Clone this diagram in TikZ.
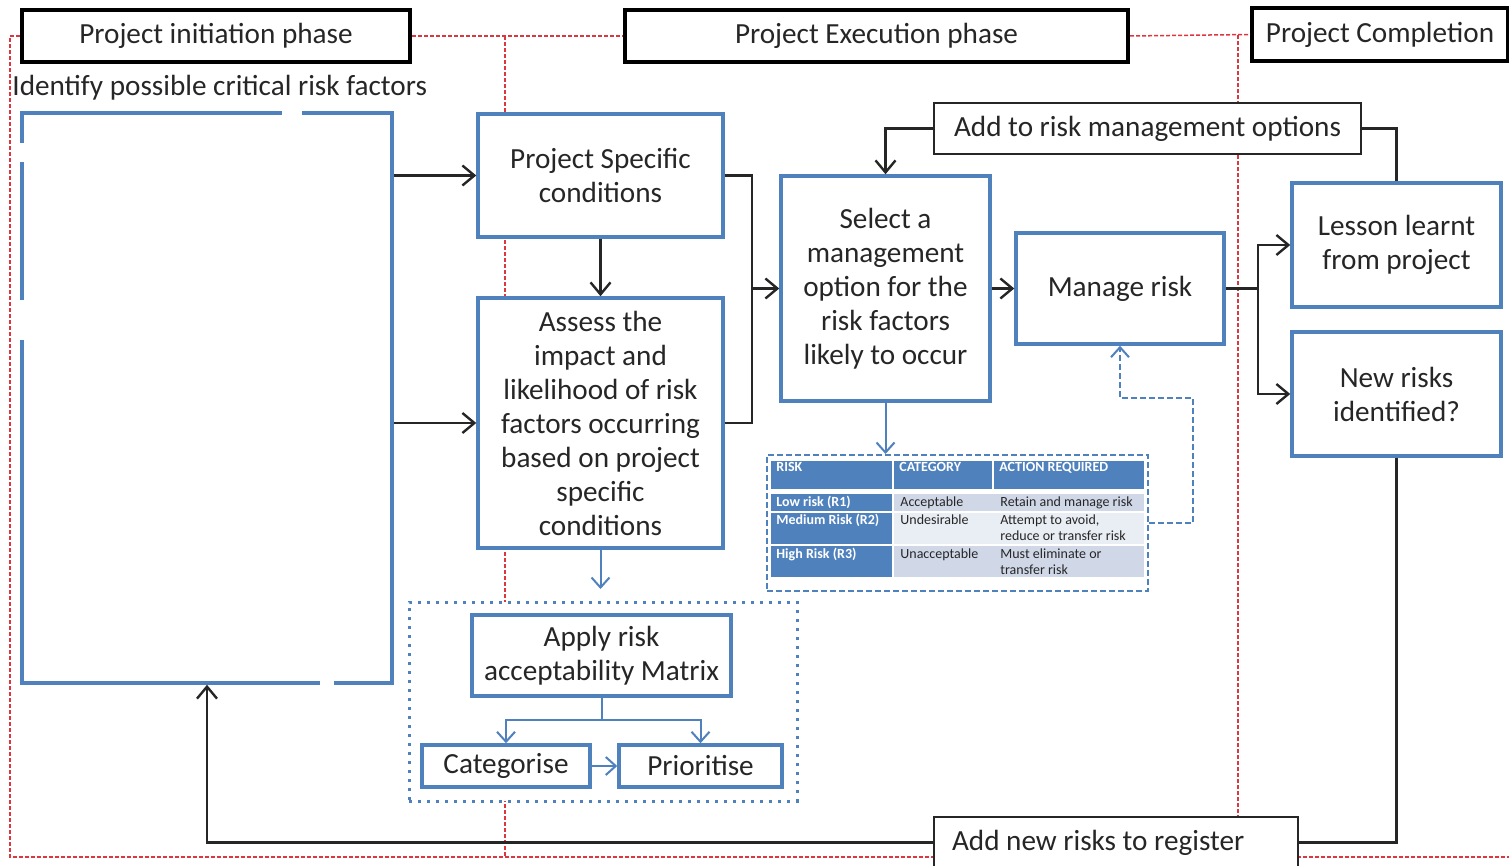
\documentclass[tikz,border=0pt]{standalone}
\usepackage{fontspec}
\setmainfont{Carlito}
\usetikzlibrary{arrows.meta}
\definecolor{boxblue}{RGB}{79,129,189}
\definecolor{ink}{RGB}{38,38,38}
\definecolor{phasered}{RGB}{220,55,65}
\definecolor{bandA}{RGB}{208,216,232}
\definecolor{bandB}{RGB}{233,237,244}
\begin{document}
\begin{tikzpicture}[x=0.5pt,y=-0.5pt,
  font=\fontsize{14.6}{17}\selectfont, text=ink, inner sep=0pt,
  phasebox/.style={draw=black, line width=2pt, fill=white, align=center},
  bluebox/.style={draw=boxblue, line width=1.75pt, fill=white, align=center},
  notebox/.style={draw=ink, line width=1.2pt, fill=white, align=center},
  flow/.style={draw=ink, line width=1.2pt},
  flowarrow/.style={flow, -{Straight Barb[length=6pt,width=10pt]}},
  bluearrow/.style={draw=boxblue, line width=1pt, -{Straight Barb[length=5pt,width=9pt]}},
  bluedash/.style={draw=boxblue, line width=1pt, dash pattern=on 3pt off 1.5pt},
  phaseline/.style={draw=phasered, line width=0.75pt, dash pattern=on 2pt off 1pt},
  celltext/.style={font=\fontsize{7}{8}\selectfont, anchor=base west},
  headtext/.style={celltext, font=\fontsize{7}{8}\selectfont\bfseries, text=white},
]
\useasboundingbox (0,0) rectangle (1509,866);

% phase headers
\node[phasebox, minimum width=194pt, minimum height=26pt] (init) at (216,36) {Project initiation phase};
\node[phasebox, minimum width=251.5pt, minimum height=26pt] (exec) at (876.5,36) {Project Execution phase};
\node[phasebox, minimum width=128pt, minimum height=26.5pt] (comp) at (1380,34.5) {Project Completion};

% phase boundaries
\draw[phaseline] (init.west) -- (10,36) -- (10,857) -- (1509,857);
\draw[phaseline] (init.east) -- (exec.west);
\draw[phaseline] (505,36) -- (505,857);
\draw[phaseline] (exec.east) -- (comp.west);
\draw[phaseline] (1238,35) -- (1238,857);

% initiation phase
\node[anchor=west] (idtitle) at (12,88) {Identify possible critical risk factors};
\node[bluebox, minimum width=185pt, minimum height=285pt] (leftbox) at (207,398) {};
\fill[white] (282,106) rectangle (302,120);
\fill[white] (15,143) rectangle (29,162);
\fill[white] (15,300) rectangle (29,340);
\fill[white] (320,676) rectangle (334,690);

% execution phase
\node[bluebox, minimum width=122.5pt, minimum height=61.5pt] (ps) at (600.5,175.5) {Project Specific\\conditions};
\node[bluebox, minimum width=122.5pt, minimum height=125pt] (assess) at (600.5,423) {Assess the\\impact and\\likelihood of risk\\factors occurring\\based on project\\specific\\conditions};
\node[bluebox, minimum width=104.5pt, minimum height=112.5pt] (select) at (885.5,288.5) {Select a\\management\\option for the\\risk factors\\likely to occur};
\node[bluebox, minimum width=104pt, minimum height=55.5pt] (manage) at (1120,288.5) {Manage risk};
\node[notebox, minimum width=213.5pt, minimum height=25.5pt] (addopt) at (1147.5,128.5) {Add to risk management options};

% risk acceptability group
\node[draw=boxblue, fill=white, line width=1.5pt, dash pattern=on 1.5pt off 3pt, minimum width=194pt, minimum height=99.5pt] (group) at (603,701.5) {};
\node[bluebox, minimum width=129.5pt, minimum height=40.5pt] (apply) at (601.5,655.5) {Apply risk\\acceptability Matrix};
\node[bluebox, minimum width=84pt, minimum height=21pt] (categ) at (506,766) {Categorise};
\node[bluebox, minimum width=81.5pt, minimum height=21pt] (prior) at (700.5,766) {Prioritise};

% risk table
\node[bluedash, fill=white, minimum width=190.5pt, minimum height=68pt] (tbl) at (957.5,523) {};
\begin{scope}[draw=white, line width=0.6pt]
  \filldraw[fill=boxblue] (770,460) rectangle (893,490);
  \filldraw[fill=boxblue] (893,460) rectangle (993,490);
  \filldraw[fill=boxblue] (993,460) rectangle (1145,490);
  \filldraw[fill=boxblue] (770,493) rectangle (893,512);
  \filldraw[fill=boxblue] (770,512) rectangle (893,545);
  \filldraw[fill=boxblue] (770,545) rectangle (893,578);
  \filldraw[fill=bandA] (893,493) rectangle (1145,512);
  \filldraw[fill=bandB] (893,512) rectangle (1145,545);
  \filldraw[fill=bandA] (893,545) rectangle (1145,578);
\end{scope}
\node[headtext] (h1) at (776,471) {RISK};
\node[headtext] (h2) at (899,471) {CATEGORY};
\node[headtext] (h3) at (999,471) {ACTION REQUIRED};
\node[headtext] (r1) at (776,506) {Low risk (R1)};
\node[headtext] (r2) at (776,524) {Medium Risk (R2)};
\node[headtext] (r3) at (776,558) {High Risk (R3)};
\node[celltext] (c1) at (900,506) {Acceptable};
\node[celltext] (c2) at (900,524) {Undesirable};
\node[celltext] (c3) at (900,558) {Unacceptable};
\node[celltext] (a1) at (1000,506) {Retain and manage risk};
\node[celltext] (a2) at (1000,524) {Attempt to avoid,};
\node[celltext] (a2b) at (1000,540) {reduce or transfer risk};
\node[celltext] (a3) at (1000,558) {Must eliminate or};
\node[celltext] (a3b) at (1000,574) {transfer risk};

% completion phase
\node[bluebox, minimum width=104.5pt, minimum height=62pt] (lesson) at (1396.5,245) {Lesson learnt\\from project};
\node[bluebox, minimum width=104.5pt, minimum height=62pt] (newrisk) at (1396.5,394) {New risks\\identified?};
\node[notebox, minimum width=182pt, minimum height=25.5pt, text width=164pt, align=flush left] (addnew) at (1116,842.5) {Add new risks to register};

% connectors
\coordinate (jn) at (752,288.5);
\coordinate (br) at (1258,288.5);
\coordinate (gtop) at (600.5,589);
\coordinate (ab) at (601.5,720);
\coordinate (dk) at (1193,398);

\draw[flowarrow] (leftbox.east |- ps.west) -- (ps.west);
\draw[flowarrow] (leftbox.east |- assess.west) -- (assess.west);
\draw[flowarrow] (ps.south) -- (assess.north);
\draw[flow] (ps.east) -| (jn) |- (assess.east);
\draw[flowarrow] (jn) -- (select.west);
\draw[flowarrow] (select.east) -- (manage.west);
\draw[flowarrow] (addopt.west) -| (select.north);
\draw[flow] (addopt.east) -| (lesson.north);
\draw[flow] (manage.east) -- (br);
\draw[flowarrow] (br) |- (lesson.west);
\draw[flowarrow] (br) |- (newrisk.west);
\draw[flow] (newrisk.south) |- (addnew.east);
\draw[flowarrow] (addnew.west) -| (leftbox.south);

\draw[bluearrow] (assess.south) -- (gtop);
\draw[draw=boxblue, line width=1pt] (apply.south) -- (ab);
\draw[bluearrow] (ab) -| (categ.north);
\draw[bluearrow] (ab) -| (prior.north);
\draw[bluearrow] (categ.east) -- (prior.west);
\draw[bluearrow] (select.south) -- (select.south |- tbl.north);
\draw[bluedash, -{Straight Barb[length=5pt,width=9pt]}] (tbl.east) -| (dk) -| (manage.south);
\end{tikzpicture}
\end{document}
